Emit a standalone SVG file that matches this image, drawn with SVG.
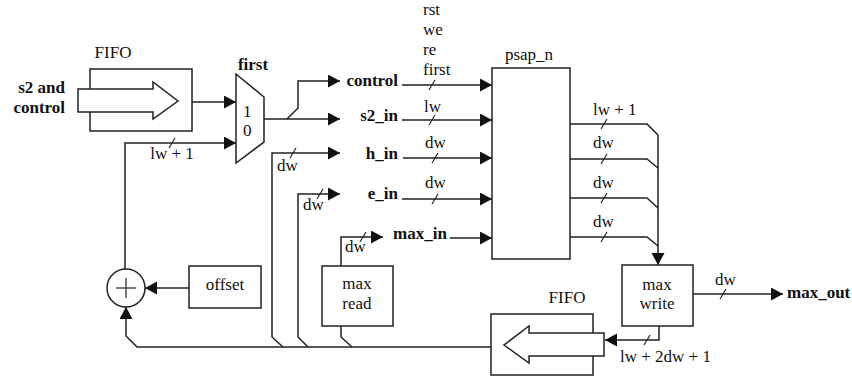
<svg xmlns="http://www.w3.org/2000/svg" width="852" height="377" viewBox="0 0 852 377">
<defs>
<marker id="ah" markerUnits="userSpaceOnUse" markerWidth="13" markerHeight="14" refX="12" refY="6.5" orient="auto">
<path d="M0,0 L12,6.5 L0,13 Z" fill="#111"/>
</marker>
<style>
.l{fill:none;stroke:#222;stroke-width:1.5}
.b{fill:#fff;stroke:#222;stroke-width:1.5}
.t{font-family:"Liberation Serif","Times New Roman",serif;font-size:17px;fill:#111}
.bt{font-family:"Liberation Serif","Times New Roman",serif;font-size:17px;font-weight:bold;fill:#111}
.s{stroke:#222;stroke-width:1.2}
</style>
</defs>
<rect width="852" height="377" fill="#fff"/>

<g id="connectors">
<!-- FIFO1 -> mux -->
<line class="l" x1="192" y1="102" x2="236" y2="102" marker-end="url(#ah)"/>
<!-- feedback to mux input 0 -->
<polyline class="l" points="125,269 125,143 236,143" marker-end="url(#ah)"/>
<line class="s" x1="169" y1="148" x2="175" y2="138"/>
<!-- mux output -->
<line class="l" x1="264" y1="119" x2="340" y2="119" marker-end="url(#ah)"/>
<polyline class="l" points="287,119 298,108 298,81 340,81" marker-end="url(#ah)"/>
<!-- psap inputs -->
<line class="l" x1="402" y1="85" x2="492" y2="85" marker-end="url(#ah)"/>
<line class="s" x1="429" y1="90" x2="435" y2="80"/>
<line class="l" x1="402" y1="120" x2="492" y2="120" marker-end="url(#ah)"/>
<line class="s" x1="429" y1="125" x2="435" y2="115"/>
<line class="l" x1="403" y1="158" x2="492" y2="158" marker-end="url(#ah)"/>
<line class="s" x1="432" y1="163" x2="438" y2="153"/>
<line class="l" x1="402" y1="199" x2="492" y2="199" marker-end="url(#ah)"/>
<line class="s" x1="432" y1="204" x2="438" y2="194"/>
<line class="l" x1="450" y1="238" x2="492" y2="238" marker-end="url(#ah)"/>
<!-- h_in, e_in, max_in feeds -->
<polyline class="l" points="283,347 272,337 272,153 340,153" marker-end="url(#ah)"/>
<line class="s" x1="290" y1="158" x2="296" y2="148"/>
<polyline class="l" points="308,347 298,337 298,194 340,194" marker-end="url(#ah)"/>
<line class="s" x1="317" y1="199" x2="323" y2="189"/>
<polyline class="l" points="341,266 341,237 383,237" marker-end="url(#ah)"/>
<line class="s" x1="360" y1="242" x2="366" y2="232"/>
<polyline class="l" points="352,347 341,337 341,326"/>
<!-- psap outputs -->
<polyline class="l" points="570,124 647,124 658,135 658,265" marker-end="url(#ah)"/>
<line class="s" x1="601" y1="129" x2="607" y2="119"/>
<polyline class="l" points="570,159 647,159 658,168"/>
<line class="s" x1="601" y1="164" x2="607" y2="154"/>
<polyline class="l" points="570,198 647,198 658,208"/>
<line class="s" x1="601" y1="203" x2="607" y2="193"/>
<polyline class="l" points="570,237 647,237 658,246"/>
<line class="s" x1="601" y1="242" x2="607" y2="232"/>
<!-- max_out -->
<line class="l" x1="693" y1="294" x2="783" y2="294" marker-end="url(#ah)"/>
<line class="s" x1="720" y1="299" x2="726" y2="289"/>
<!-- max write -> FIFO2 -->
<polyline class="l" points="659,326 659,340 605,340" marker-end="url(#ah)"/>
<line class="s" x1="644" y1="345" x2="650" y2="335"/>
<!-- bottom return -->
<polyline class="l" points="491,347 137,347 126,336 126,307" marker-end="url(#ah)"/>
<!-- offset -> adder -->
<line class="l" x1="189" y1="288" x2="145" y2="288" marker-end="url(#ah)"/>
</g>

<g id="fifo1">
<rect class="b" x="90" y="69" width="102" height="62"/>
<path class="b" d="M78,89 L153,89 L153,82 L178,101 L153,119 L153,112 L78,112 Z"/>
<text class="t" x="113" y="58" text-anchor="middle">FIFO</text>
</g>
<g id="input-label">
<text class="bt" x="65" y="93" text-anchor="end">s2 and</text>
<text class="bt" x="65" y="113" text-anchor="end">control</text>
</g>
<g id="mux">
<polygon class="b" points="236,74 264,97 264,142 236,163"/>
<text class="bt" x="253" y="70" text-anchor="middle">first</text>
<text class="t" x="243" y="117">1</text>
<text class="t" x="243" y="136">0</text>
<text class="t" x="172" y="159" text-anchor="middle">lw + 1</text>
</g>
<g id="labels-in">
<text class="bt" x="398" y="86" text-anchor="end">control</text>
<text class="bt" x="398" y="121" text-anchor="end">s2_in</text>
<text class="bt" x="398" y="159" text-anchor="end">h_in</text>
<text class="bt" x="398" y="199" text-anchor="end">e_in</text>
<text class="bt" x="393" y="239">max_in</text>
<text class="t" x="423" y="15">rst</text>
<text class="t" x="423" y="35">we</text>
<text class="t" x="423" y="55">re</text>
<text class="t" x="423" y="75">first</text>
<text class="t" x="424" y="112">lw</text>
<text class="t" x="425" y="148">dw</text>
<text class="t" x="425" y="188">dw</text>
<text class="t" x="277" y="171">dw</text>
<text class="t" x="303" y="210">dw</text>
<text class="t" x="345" y="252">dw</text>
</g>
<g id="psap_n">
<rect class="b" x="492" y="68" width="78" height="191"/>
<text class="t" x="529" y="60" text-anchor="middle">psap_n</text>
<text class="t" x="593" y="115">lw + 1</text>
<text class="t" x="593" y="148">dw</text>
<text class="t" x="593" y="188">dw</text>
<text class="t" x="593" y="227">dw</text>
</g>
<g id="max-write">
<rect class="b" x="622" y="265" width="71" height="61"/>
<text class="t" x="657" y="290" text-anchor="middle">max</text>
<text class="t" x="657" y="309" text-anchor="middle">write</text>
<text class="t" x="715" y="285">dw</text>
<text class="bt" x="787" y="298">max_out</text>
</g>
<g id="fifo2">
<rect class="b" x="491" y="314" width="102" height="61"/>
<path class="b" d="M604,333 L529,333 L529,326 L504,345 L529,363 L529,356 L604,356 Z"/>
<text class="t" x="567" y="303" text-anchor="middle">FIFO</text>
<text class="t" x="620" y="362">lw + 2dw + 1</text>
</g>
<g id="max-read">
<rect class="b" x="322" y="266" width="71" height="60"/>
<text class="t" x="357" y="289" text-anchor="middle">max</text>
<text class="t" x="357" y="309" text-anchor="middle">read</text>
</g>
<g id="offset">
<rect class="b" x="189" y="266" width="72" height="42"/>
<text class="t" x="225" y="290" text-anchor="middle">offset</text>
</g>
<g id="adder">
<circle class="b" cx="126" cy="288" r="19"/>
<line class="s" x1="116" y1="288" x2="136" y2="288"/>
<line class="s" x1="126" y1="278" x2="126" y2="298"/>
</g>
</svg>
